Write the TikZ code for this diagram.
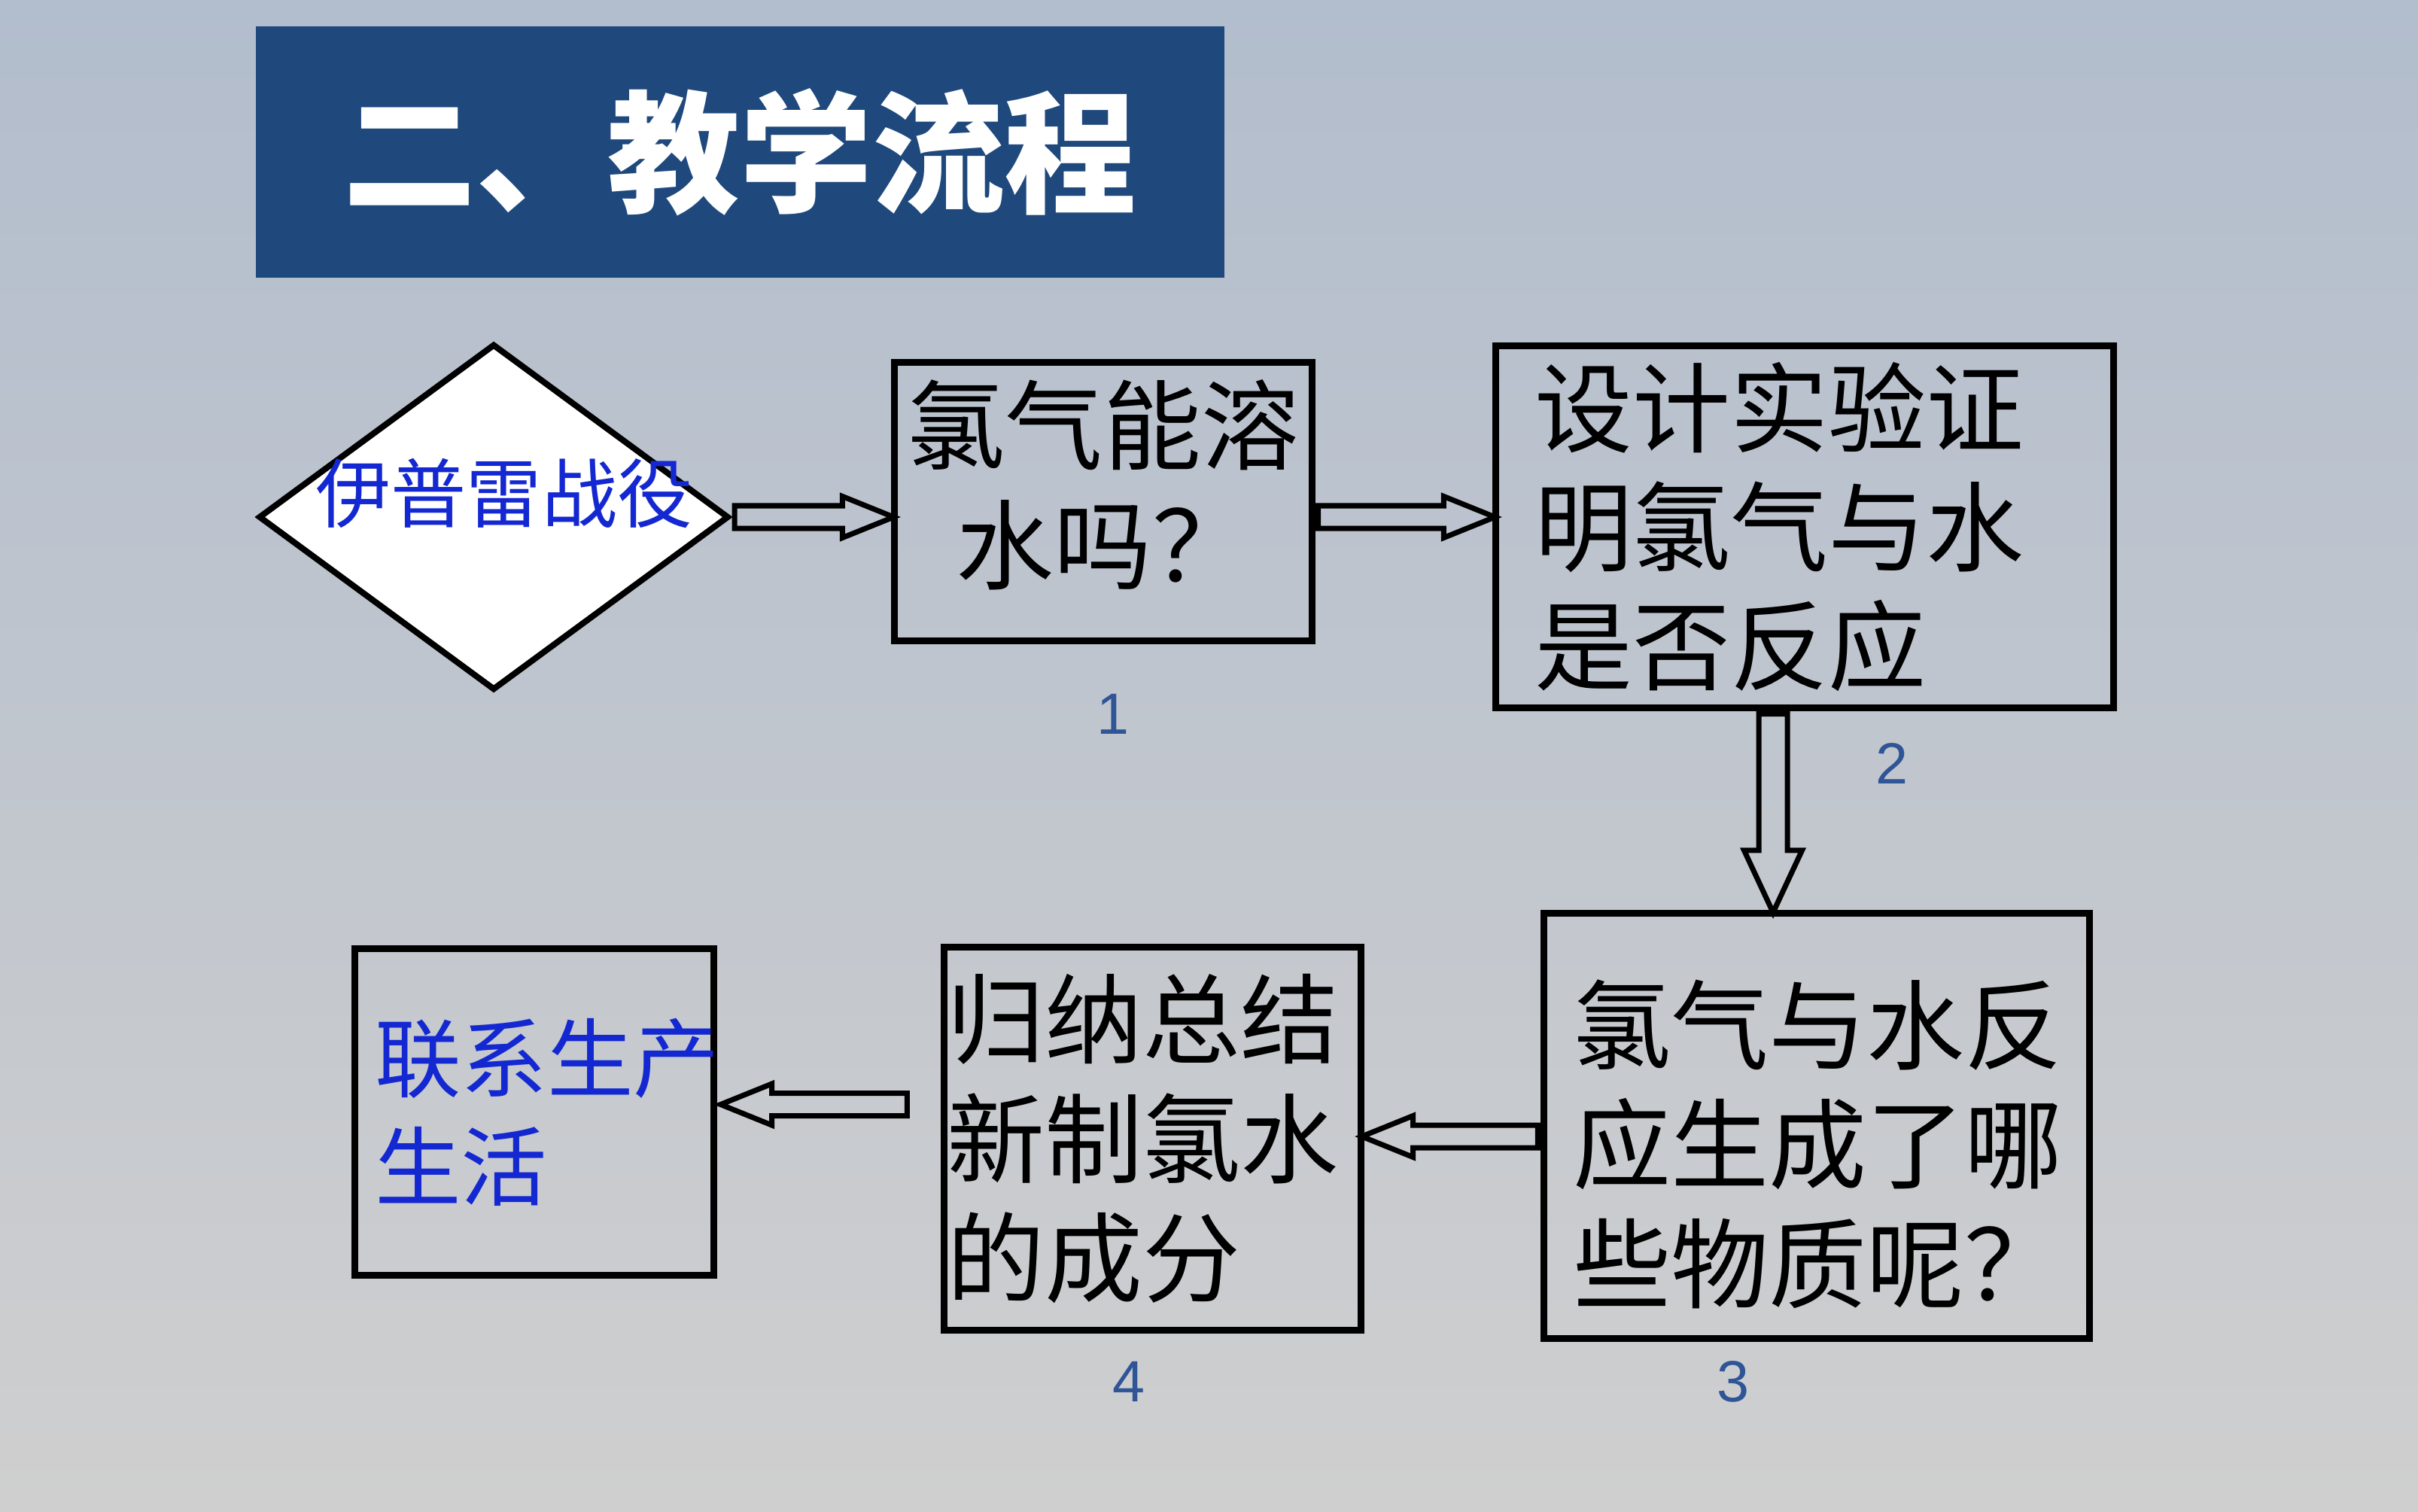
\documentclass[tikz,border=0pt]{standalone}
\usepackage{fontspec}
\setmainfont{Liberation Sans}
\newfontfamily\cjk{Noto Sans CJK SC}
\usetikzlibrary{shapes.geometric, shapes.arrows, positioning, calc}

\definecolor{titleblue}{RGB}{31,73,125}
\definecolor{textblue}{RGB}{20,40,210}
\definecolor{numblue}{RGB}{47,85,151}
\definecolor{skytop}{RGB}{178,189,205}
\definecolor{skybottom}{RGB}{207,207,207}

\begin{document}
\begin{tikzpicture}[
    box/.style={draw, line width=2.6pt, inner sep=0pt, align=left,
                font=\cjk\fontsize{37}{45}\selectfont},
    fat/.style={single arrow, draw, line width=2pt, inner xsep=0pt, inner ysep=0.115cm,
                single arrow head extend=0.125cm, single arrow tip angle=44,
                pos=0, anchor=tail, sloped, allow upside down},
    fatv/.style={fat, inner ysep=0.155cm, single arrow head extend=0.195cm,
                single arrow tip angle=50},
    num/.style={text=numblue, font=\fontsize{22}{26}\selectfont}
  ]

\fill[top color=skytop, bottom color=skybottom] (0,0) rectangle (32.13,-20.08);
\useasboundingbox (0,0) rectangle (32.13,-20.08);

\node (title) [fill=titleblue, minimum width=12.87cm, minimum height=3.34cm, text=white,
  font=\cjk\bfseries\fontsize{50}{60}\selectfont] at (9.835,-2.02) {二、教学流程};

\node (dia) [diamond, draw, fill=white, line width=2.3pt, aspect=1.36, inner sep=0pt,
  minimum width=6.25cm, minimum height=4.6cm] at (6.56,-6.87) {};
\node (dialabel) [text=textblue, font=\cjk\fontsize{28.5}{34}\selectfont]
  at ([xshift=0.14cm, yshift=0.31cm]dia.center) {伊普雷战役};

\node (b1) [box, align=center, text depth=0.55cm, minimum width=5.55cm, minimum height=3.7cm] at (14.66,-6.665) {氯气能溶\\水吗？};
\node (b2) [box, text width=7.18cm, minimum width=8.21cm, minimum height=4.81cm] at (23.98,-7.00) {设计实验证\\明氯气与水\\是否反应};
\node (b3) [box, text width=6.48cm, minimum width=7.25cm, minimum height=5.65cm] at (24.14,-14.96) {\hspace{0.16cm}氯气与水反\\应生成了哪\\些物质呢？};
\node (b4) [box, text width=5.47cm, minimum width=5.54cm, minimum height=5.09cm] at (15.315,-15.13) {归纳总结\\新制氯水\\的成分};
\node (b5) [box, text=textblue, text width=4.24cm, minimum width=4.77cm, minimum height=4.34cm,
  font=\cjk\fontsize{32.6}{41}\selectfont] at (7.10,-14.775) {联系生产\\生活};

% arrow ends
\coordinate (a1e) at (dia.east -| b1.west);
\coordinate (a2s) at (dia.east -| b1.east);
\coordinate (a2e) at (dia.east -| b2.west);
\coordinate (a3s) at ($(b2.south)+(-0.42,0)$);
\coordinate (a3e) at (a3s |- b3.north);
\coordinate (a4s) at ($(b3.west)+(0,-0.14)$);
\coordinate (a4e) at (a4s -| b4.east);
\coordinate (a5e) at ($(b5.east)+(0.08,0.1)$);
\coordinate (a5s) at ($(a5e -| b4.west)+(-0.41,0)$);

\foreach \s/\e in {dia.east/a1e, a2s/a2e, a4s/a4e, a5s/a5e}
  \path let \p1=($(\e)-(\s)$), \n1={veclen(\x1,\y1)} in
    (\s) -- (\e) node[fat, minimum height=\n1] {};
\path let \p1=($(a3e)-(a3s)$), \n1={veclen(\x1,\y1)} in
  (a3s) -- (a3e) node[fatv, minimum height=\n1] {};

\node (n1) [num] at (14.79,-9.49) {1};
\node (n2) [num] at (25.14,-10.14) {2};
\node (n3) [num] at (23.03,-18.36) {3};
\node (n4) [num] at (15.00,-18.36) {4};

\end{tikzpicture}
\end{document}
